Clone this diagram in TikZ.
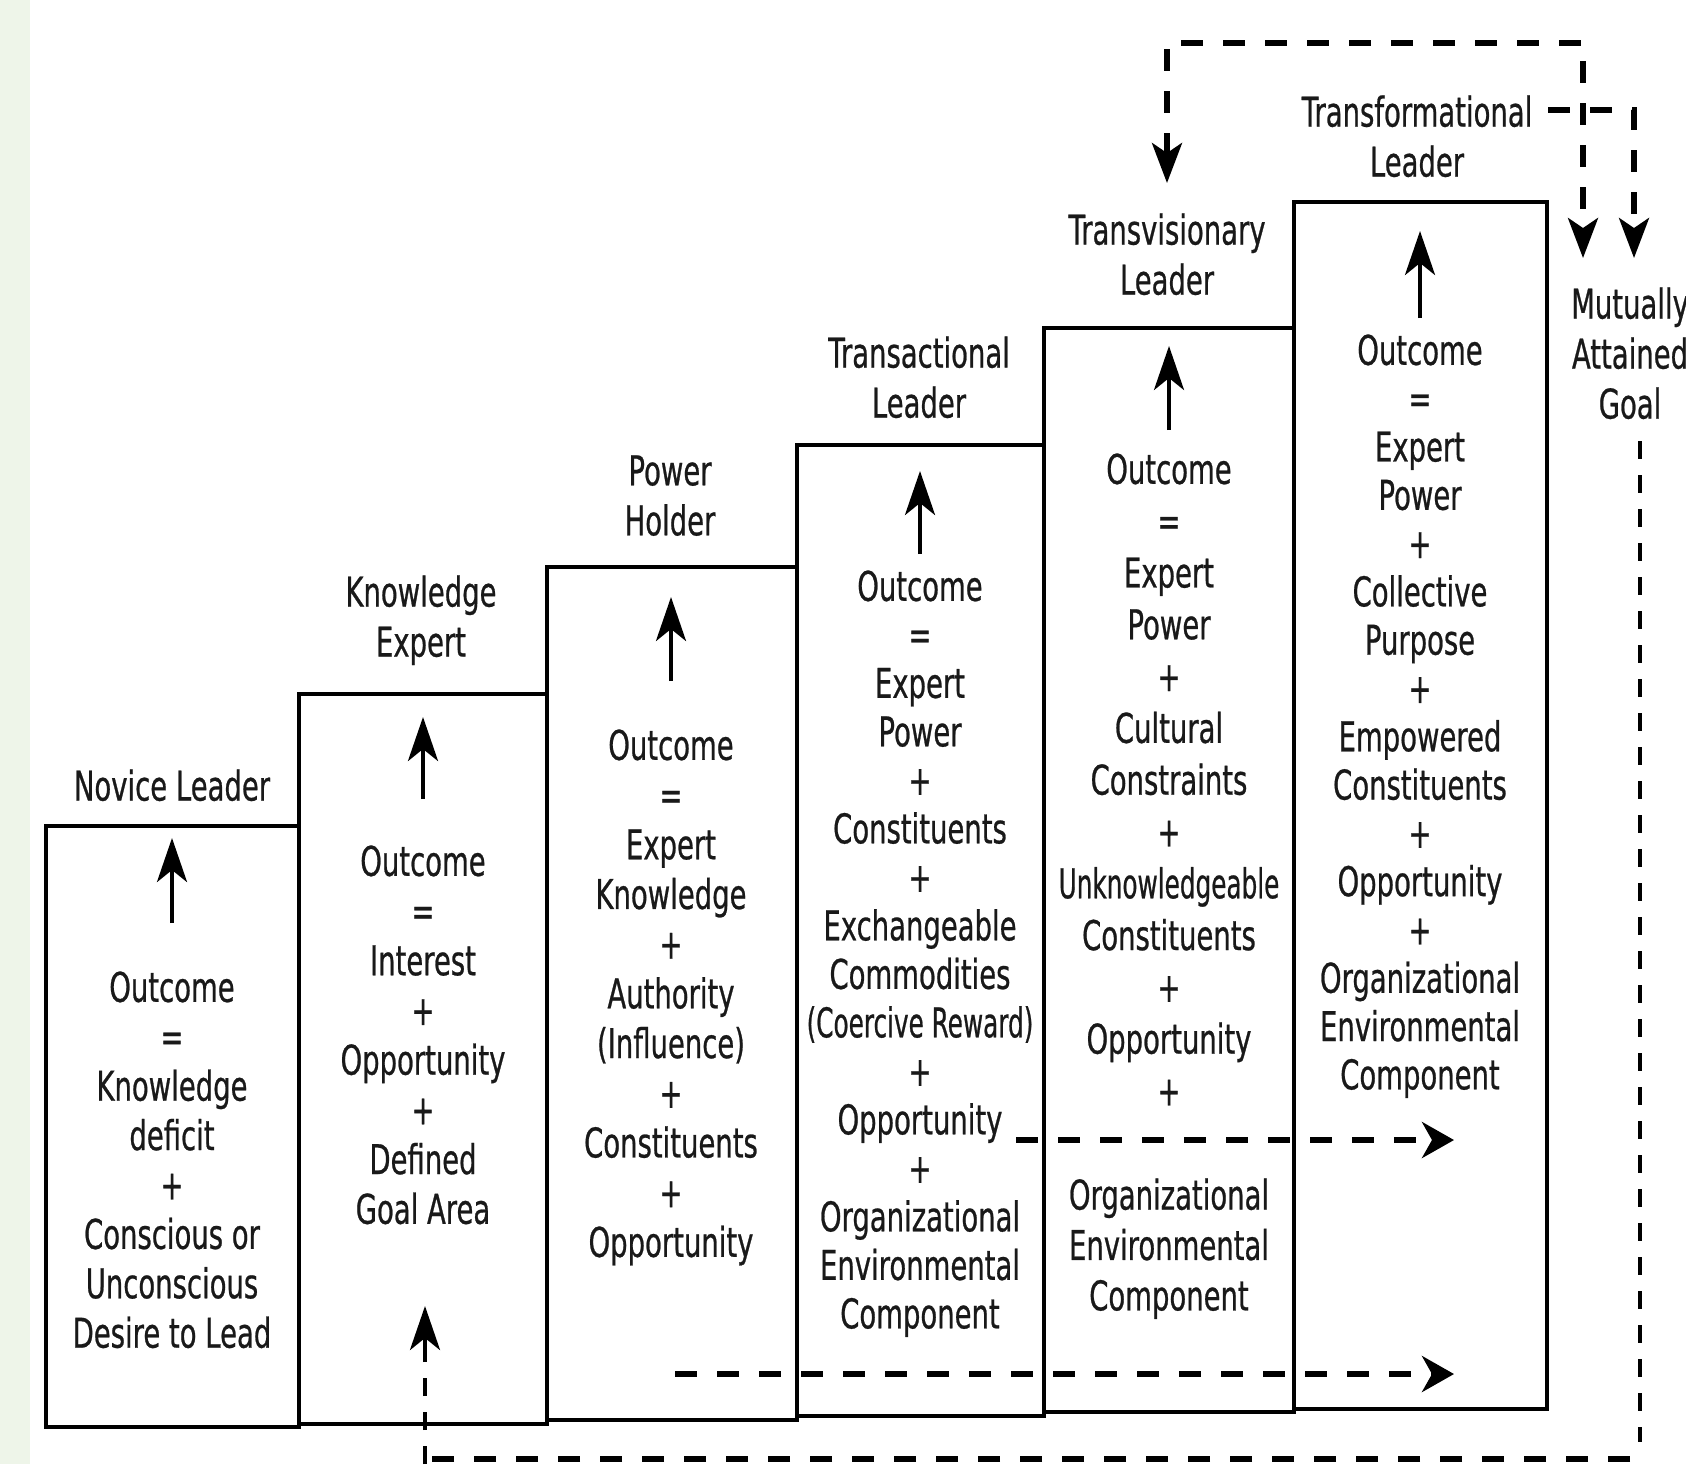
\documentclass[tikz,border=0pt]{standalone}
\usepackage{fontspec}
\setmainfont{DejaVu Sans}[FakeStretch=0.67,FakeBold=0.6]
\usetikzlibrary{arrows.meta}
\definecolor{stripe}{RGB}{238,245,233}
\newcommand{\narrowtxt}[1]{\scalebox{0.9}[1]{#1}}
\tikzset{
  box/.style={draw=black, line width=2pt},
  txt/.style={align=center, inner sep=0pt, anchor=north, text=black!90,
              font=\fontsize{20.5}{#1}\selectfont},
  txt/.default=25pt,
  uparr/.style={line width=2pt, -{Stealth[length=22pt,width=15pt,inset=6pt]}},
  dashl/.style={line width=2.6pt, dash pattern=on 11pt off 10pt},
  thindash/.style={line width=1.6pt, dash pattern=on 9pt off 8pt},
  dtip/.style={-{Stealth[length=16pt,width=18pt,inset=5pt]}},
  ddtip/.style={{Stealth[length=20pt,width=15pt,inset=5pt]}-{Stealth[length=20pt,width=15pt,inset=5pt]}},
  dntip/.style={-{Stealth[length=20pt,width=15pt,inset=5pt]}},
}
\begin{document}
\begin{tikzpicture}[x=0.5pt,y=-0.5pt]
\useasboundingbox (0,0) rectangle (1686,1464);
\fill[white] (0,0) rectangle (1686,1464);
\fill[stripe] (0,0) rectangle (30,1464);

% steps (boxes)
\draw[box] (46,826) rectangle (299,1427);
\draw[box] (299,694) rectangle (547,1424);
\draw[box] (547,567) rectangle (797,1420);
\draw[box] (797,445) rectangle (1044,1416);
\draw[box] (1044,328) rectangle (1294,1412);
\draw[box] (1294,202) rectangle (1547,1409);

% labels
\node[txt] (l1) at (172,769) {Novice Leader};
\node[txt] (l2) at (421,575) {Knowledge\\Expert};
\node[txt] (l3) at (670,455) {Power\\Holder};
\node[txt] (l4) at (919,336) {Transactional\\Leader};
\node[txt] (l5) at (1167,213) {Transvisionary\\Leader};
\node[txt] (l6) at (1417,95) {Transformational\\Leader};
\node[txt] (l7) at (1630,287) {Mutually\\Attained\\Goal};

% box contents
\node[txt=24.7pt] (t1) at (172,971) {Outcome\\=\\Knowledge\\deficit\\+\\Conscious or\\Unconscious\\Desire to Lead};
\node[txt=24.85pt] (t2) at (423,845) {Outcome\\=\\Interest\\+\\Opportunity\\+\\Defined\\Goal Area};
\node[txt=24.85pt] (t3) at (671,729) {Outcome\\=\\Expert\\Knowledge\\+\\Authority\\(Influence)\\+\\Constituents\\+\\Opportunity};
\node[txt=24.25pt] (t4) at (920,570) {Outcome\\=\\Expert\\Power\\+\\Constituents\\+\\Exchangeable\\Commodities\\\narrowtxt{(Coercive Reward)}\\+\\Opportunity\\+\\Organizational\\Environmental\\Component};
\node[txt=25.9pt] (t5) at (1169,453) {Outcome\\=\\Expert\\Power\\+\\Cultural\\Constraints\\+\\\narrowtxt{Unknowledgeable}\\Constituents\\+\\Opportunity\\+};
\node[txt=25.2pt] (t5b) at (1169,1178) {Organizational\\Environmental\\Component};
\node[txt=24.15pt] (t6) at (1420,334) {Outcome\\=\\Expert\\Power\\+\\Collective\\Purpose\\+\\Empowered\\Constituents\\+\\Opportunity\\+\\Organizational\\Environmental\\Component};

% upward arrows inside the steps
\coordinate (a1) at (172,838);  \draw[uparr] (172,923) -- (a1);
\coordinate (a2) at (423,717);  \draw[uparr] (423,799) -- (a2);
\coordinate (a3) at (671,597);  \draw[uparr] (671,681) -- (a3);
\coordinate (a4) at (920,471);  \draw[uparr] (920,554) -- (a4);
\coordinate (a5) at (1169,346); \draw[uparr] (1169,430) -- (a5);
\coordinate (a6) at (1420,231); \draw[uparr] (1420,318) -- (a6);

% dashed horizontal arrows
\coordinate (h1) at (1454,1140);
\draw[dashl,dtip] (1016,1140) -- (h1);
\coordinate (h2) at (1454,1374);
\draw[dashl,dtip] (675,1374) -- (h2);

% top dashed loop: transvisionary <-> goal
\coordinate (tv) at (1167,183);
\coordinate (gl) at (1583,258);
\draw[dashl,ddtip] (tv) -- (1167,43) -- (1583,43) -- (gl);

% transformational -> goal
\coordinate (gr) at (1634,258);
\draw[dashl,dntip] (1548,110) -- (1634,110) -- (gr);

% feedback: goal -> bottom -> knowledge expert
\draw[thindash] (1640,441) -- (1640,1442);
\draw[dashl] (1630,1459) -- (430,1459);
\coordinate (b2) at (425,1306);
\draw[thindash] (425,1464) -- (425,1350);
\draw[uparr] (425,1352) -- (b2);
\end{tikzpicture}
\end{document}
